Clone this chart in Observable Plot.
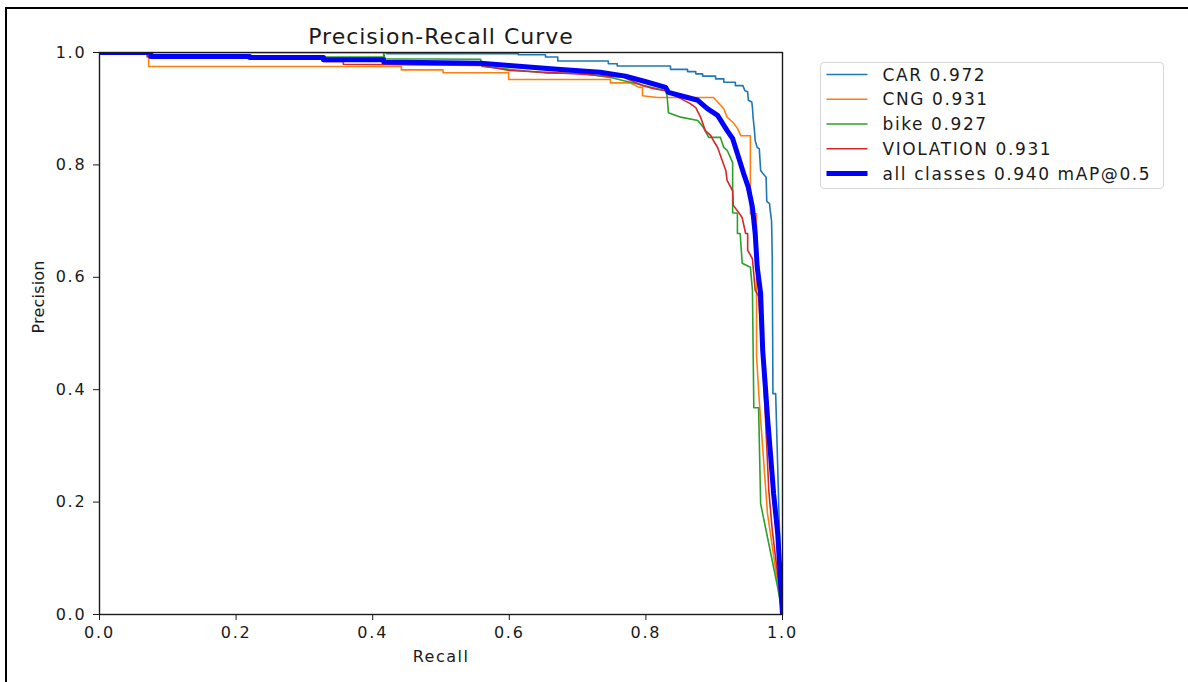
<!DOCTYPE html>
<html><head><meta charset="utf-8">
<script src="https://cdn.jsdelivr.net/npm/d3@7"></script>
<script src="https://cdn.jsdelivr.net/npm/@observablehq/plot@0.6"></script>
<style>
body{margin:0;background:#fff;}
#wrap{position:relative;width:1188px;height:682px;overflow:hidden;background:#fff;font-family:"DejaVu Sans",sans-serif;}
#chart{position:absolute;left:0;top:0;}
#legend{position:absolute;left:820px;top:62px;width:342px;height:125px;border:1.5px solid #d6d6d6;border-radius:4px;background:#fff;}
#border{position:absolute;left:5px;top:7px;width:1300px;height:800px;border-left:2px solid #000;border-top:2px solid #000;pointer-events:none;}
</style></head>
<body><div id="wrap"><div id="chart"></div><div id="legend"></div><div id="border"></div></div>
<script>
const chartTitle = "Precision-Recall Curve";
const xLabel = "Recall";
const yLabel = "Precision";
const xTicks = [0, 0.2, 0.4, 0.6, 0.8, 1.0];
const yTicks = [0, 0.2, 0.4, 0.6, 0.8, 1.0];

const classNames = ["CAR", "CNG", "bike", "VIOLATION"];
const classAP = [0.972, 0.931, 0.927, 0.931];
const allLabel = "all classes";
const allAP = 0.940;
const allSuffix = "mAP@0.5";

const carRecall = [0, 0.42, 0.42, 0.613, 0.613, 0.653, 0.653, 0.671, 0.671, 0.745, 0.745, 0.758, 0.758, 0.836, 0.836, 0.861, 0.861, 0.873, 0.873, 0.883, 0.883, 0.902, 0.902, 0.914, 0.914, 0.931, 0.931, 0.942, 0.945, 0.949, 0.950, 0.955, 0.956, 0.957, 0.959, 0.960, 0.963, 0.966, 0.968, 0.971, 0.976, 0.977, 0.981, 0.982, 0.984, 0.985, 0.986, 0.990, 0.993, 0.997, 1.0];
const carPrecision = [1, 1, 0.998, 0.998, 0.996, 0.996, 0.992, 0.992, 0.985, 0.985, 0.980, 0.980, 0.976, 0.976, 0.970, 0.970, 0.966, 0.966, 0.962, 0.962, 0.958, 0.958, 0.953, 0.953, 0.947, 0.947, 0.941, 0.941, 0.932, 0.930, 0.915, 0.912, 0.902, 0.884, 0.860, 0.843, 0.831, 0.829, 0.790, 0.785, 0.778, 0.735, 0.731, 0.719, 0.700, 0.635, 0.393, 0.393, 0.262, 0.084, 0.0];

const cngRecall = [0, 0.072, 0.072, 0.442, 0.442, 0.503, 0.503, 0.599, 0.599, 0.748, 0.748, 0.777, 0.790, 0.795, 0.795, 0.817, 0.899, 0.914, 0.919, 0.928, 0.934, 0.939, 0.953, 0.953, 0.962, 0.962, 0.966, 0.972, 0.978, 0.990, 1.0];
const cngPrecision = [1, 1, 0.975, 0.975, 0.969, 0.969, 0.964, 0.964, 0.952, 0.952, 0.946, 0.946, 0.938, 0.938, 0.923, 0.920, 0.920, 0.900, 0.885, 0.875, 0.865, 0.852, 0.852, 0.713, 0.713, 0.460, 0.380, 0.280, 0.180, 0.080, 0.0];

const bikeRecall = [0, 0.07, 0.07, 0.416, 0.416, 0.418, 0.558, 0.560, 0.657, 0.704, 0.750, 0.777, 0.829, 0.831, 0.833, 0.851, 0.876, 0.884, 0.892, 0.909, 0.914, 0.919, 0.927, 0.927, 0.934, 0.934, 0.938, 0.941, 0.953, 0.956, 0.958, 0.965, 0.968, 0.993, 1.0];
const bikePrecision = [1, 1, 0.992, 0.992, 1.0, 0.989, 0.988, 0.975, 0.963, 0.963, 0.955, 0.947, 0.932, 0.923, 0.893, 0.885, 0.879, 0.867, 0.849, 0.849, 0.831, 0.826, 0.804, 0.715, 0.714, 0.678, 0.678, 0.625, 0.618, 0.577, 0.368, 0.368, 0.197, 0.048, 0.0];

const violRecall = [0, 0.07, 0.07, 0.328, 0.328, 0.357, 0.357, 0.560, 0.600, 0.700, 0.767, 0.796, 0.810, 0.829, 0.851, 0.865, 0.873, 0.880, 0.887, 0.895, 0.899, 0.905, 0.909, 0.917, 0.919, 0.927, 0.928, 0.936, 0.941, 0.946, 0.949, 0.949, 0.956, 0.960, 0.965, 0.971, 0.975, 0.980, 0.985, 1.0];
const violPrecision = [1, 1, 0.993, 0.993, 0.984, 0.984, 0.979, 0.977, 0.968, 0.962, 0.956, 0.941, 0.936, 0.932, 0.918, 0.909, 0.902, 0.885, 0.861, 0.852, 0.843, 0.831, 0.817, 0.790, 0.772, 0.754, 0.728, 0.715, 0.706, 0.678, 0.678, 0.648, 0.633, 0.577, 0.566, 0.450, 0.350, 0.220, 0.150, 0.0];

const allRecall = [0, 0.075, 0.075, 0.22, 0.22, 0.328, 0.328, 0.416, 0.416, 0.558, 0.600, 0.670, 0.733, 0.770, 0.800, 0.829, 0.833, 0.861, 0.876, 0.890, 0.905, 0.919, 0.927, 0.934, 0.943, 0.950, 0.956, 0.960, 0.963, 0.968, 0.971, 0.975, 0.978, 0.982, 0.987, 0.993, 1.0];
const allPrecision = [1, 1, 0.993, 0.993, 0.991, 0.991, 0.987, 0.987, 0.983, 0.981, 0.977, 0.970, 0.965, 0.958, 0.948, 0.938, 0.929, 0.920, 0.915, 0.900, 0.888, 0.861, 0.847, 0.820, 0.785, 0.760, 0.724, 0.678, 0.618, 0.571, 0.470, 0.404, 0.351, 0.292, 0.215, 0.144, 0.0];

const classColors = ["#1f77b4", "#ff7f0e", "#2ca02c", "#d62728"];
const allColor = "#0000ff";

const classSeries = [[carRecall, carPrecision], [cngRecall, cngPrecision], [bikeRecall, bikePrecision], [violRecall, violPrecision]];
const classRows = classSeries.flatMap(([r, p], i) => r.map((v, j) => ({name: classNames[i], recall: v, precision: p[j]})));
const allRows = allRecall.map((v, j) => ({recall: v, precision: allPrecision[j]}));

const fmt = d => d.toFixed(1);
const chart = Plot.plot({
  width: 1188, height: 682,
  marginLeft: 99, marginRight: 406, marginTop: 52, marginBottom: 68,
  style: {background: "transparent", fontFamily: "DejaVu Sans, sans-serif", fontSize: "16px", color: "#1a1a1a", letterSpacing: "1.8px"},
  x: {domain: [0, 1]},
  y: {domain: [0, 1]},
  color: {domain: classNames, range: classColors},
  marks: [
    Plot.line(classRows, {x: "recall", y: "precision", z: "name", stroke: "name", strokeWidth: 1.6, clip: true}),
    Plot.line(allRows, {x: "recall", y: "precision", stroke: allColor, strokeWidth: 5, clip: true}),
    Plot.frame({stroke: "#1a1a1a", strokeWidth: 1.4}),
    Plot.axisX({ticks: xTicks, tickFormat: fmt, tickSize: 6, tickPadding: 6, label: null}),
    Plot.axisY({ticks: yTicks, tickFormat: fmt, tickSize: 6, tickPadding: 7, label: null}),
    Plot.text([chartTitle], {frameAnchor: "top", dy: -16, fontSize: 22, lineAnchor: "middle"}),
    Plot.text([xLabel], {frameAnchor: "bottom", dy: 42, fontSize: 16, lineAnchor: "middle"}),
    Plot.text([yLabel], {frameAnchor: "left", dx: -61, rotate: -90, fontSize: 16, lineAnchor: "middle"})
  ]
});
document.getElementById("chart").appendChild(chart);
d3.select(chart).selectAll("text").each(function() {
  const t = this.textContent;
  if (t === yLabel) d3.select(this).style("letter-spacing", "0.2px");
  else if (t === chartTitle) d3.select(this).style("letter-spacing", "1px");
  else if (t === xLabel) d3.select(this).style("letter-spacing", "1.5px");
});

const legendItems = classNames.map((n, i) => ({label: `${n} ${classAP[i].toFixed(3)}`, color: classColors[i], w: 1.6}))
  .concat([{label: `${allLabel} ${allAP.toFixed(3)} ${allSuffix}`, color: allColor, w: 5}]);
const lsvg = d3.select("#legend").append("svg").attr("width", 342).attr("height", 125).style("display", "block");
legendItems.forEach((d, i) => {
  const cy = 11.5 + i * 24.75;
  lsvg.append("line").attr("x1", 5.5).attr("x2", 46.5).attr("y1", cy).attr("y2", cy)
    .attr("stroke", d.color).attr("stroke-width", d.w);
  lsvg.append("text").attr("x", 61.5).attr("y", cy).attr("dy", "0.36em")
    .attr("font-family", "DejaVu Sans, sans-serif").attr("font-size", 17).attr("fill", "#1a1a1a")
    .style("letter-spacing", "1.6px").text(d.label);
});
</script></body></html>
